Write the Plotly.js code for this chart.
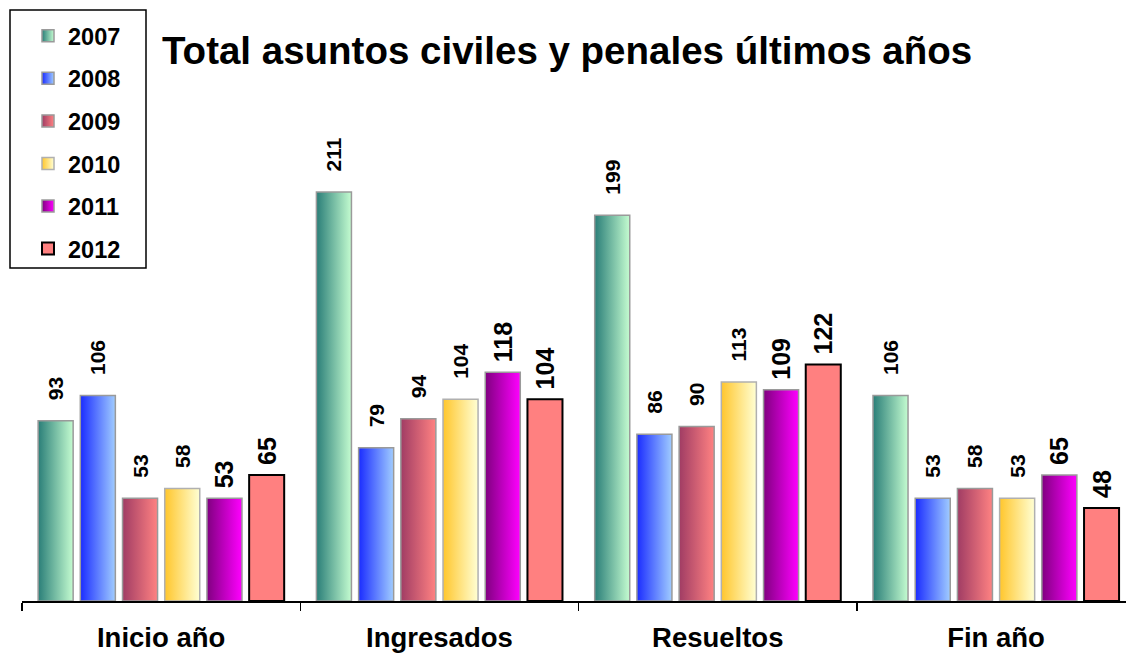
<!DOCTYPE html>
<html>
<head>
<meta charset="utf-8">
<script src="https://cdn.plot.ly/plotly-3.0.1.min.js"></script>
<style>
  html, body { margin: 0; padding: 0; background: #fff; }
  #chart { width: 1126px; height: 656px; }
</style>
</head>
<body>
<div id="chart"></div>
<script>
// ---- Data ----
const categories = ["Inicio año", "Ingresados", "Resueltos", "Fin año"];
const seriesNames = ["2007", "2008", "2009", "2010", "2011", "2012"];
const v2007 = [93, 211, 199, 106];
const v2008 = [106, 79, 86, 53];
const v2009 = [53, 94, 90, 58];
const v2010 = [58, 104, 113, 53];
const v2011 = [53, 118, 109, 65];
const v2012 = [65, 104, 122, 48];
const seriesValues = [v2007, v2008, v2009, v2010, v2011, v2012];

// ---- Styles ----
const gradients = [
  ["#2a7e78", "#c4fcd0"],
  ["#1a2cff", "#a0ccff"],
  ["#a03c64", "#ff8282"],
  ["#ffc62c", "#ffffd4"],
  ["#800080", "#ff00ff"],
  ["#ff8080", "#ff8080"]
];
const midColors = ["#7fbfa6", "#5f80ff", "#d05f73", "#ffe280", "#c000c0", "#ff8080"];
const lineColors = ["#9a9a9a", "#9a9a9a", "#9a9a9a", "#b0b0b0", "#9a9a9a", "#000000"];
const lineWidths = [1.5, 1.5, 1.5, 1.5, 1.5, 2];
const labelSizes = [21, 21, 21, 21, 25, 25];
const labelPads = ["\u00a0\u00a0\u00a0", "\u00a0\u00a0\u00a0", "\u00a0\u00a0\u00a0", "\u00a0\u00a0\u00a0", "\u00a0", "\u00a0"];
const FONT = "Liberation Sans, Arial, Helvetica, sans-serif";

const traces = seriesNames.map((name, i) => ({
  type: "bar",
  name: name,
  legendgroup: "g" + i,
  x: categories,
  y: seriesValues[i],
  marker: { color: midColors[i], line: { color: lineColors[i], width: lineWidths[i] } },
  texttemplate: labelPads[i] + "%{y}",
  textposition: "outside",
  textangle: -90,
  constraintext: "none",
  cliponaxis: false,
  outsidetextfont: { family: FONT, size: labelSizes[i], color: "#000", weight: "bold" },
  hoverinfo: "x+y+name"
}));

const layout = {
  width: 1126,
  height: 656,
  margin: { l: 22, r: 0, t: 0, b: 55 },
  paper_bgcolor: "#fff",
  plot_bgcolor: "#fff",
  font: { family: FONT, color: "#000" },
  title: {
    text: "Total asuntos civiles y penales últimos años",
    font: { family: FONT, size: 38.5, weight: "bold", color: "#000" },
    xref: "container", yref: "container",
    x: 0.5036, xanchor: "center",
    y: 1 - 51 / 656, yanchor: "middle"
  },
  barmode: "group",
  bargap: 0.09,
  bargroupgap: 0.17,
  showlegend: true,
  legend: {
    x: (28 - 22) / 1104, xanchor: "left",
    y: 1 - 14 / 601, yanchor: "top",
    font: { family: FONT, size: 23.5, weight: "bold", color: "#000" },
    bgcolor: "rgba(0,0,0,0)",
    borderwidth: 0,
    traceorder: "grouped",
    tracegroupgap: 9,
    itemwidth: 30
  },
  shapes: [{
    type: "rect", xref: "paper", yref: "paper",
    x0: (10 - 22) / 1104, x1: (146 - 22) / 1104,
    y0: 1 - 268 / 601, y1: 1 - 10 / 601,
    line: { color: "#000", width: 1.5 },
    fillcolor: "rgba(0,0,0,0)",
    layer: "above"
  }],
  xaxis: {
    type: "category",
    range: [-0.5, 3.467],
    showline: true, linecolor: "#000", linewidth: 2,
    ticks: "outside", tickson: "boundaries", ticklen: 8, tickwidth: 1.5, tickcolor: "#000",
    tickfont: { family: FONT, size: 27.5, weight: "bold", color: "#000" },
    ticklabelstandoff: 11,
    showgrid: false, zeroline: false, automargin: false, fixedrange: true
  },
  yaxis: {
    range: [0, 310],
    visible: false, showgrid: false, zeroline: false, fixedrange: true
  }
};

Plotly.newPlot("chart", traces, layout, { displayModeBar: false, staticPlot: true }).then(gd => {
  const svgNS = "http://www.w3.org/2000/svg";
  const defs = gd.querySelector("svg.main-svg defs") || gd._fullLayout._defs.node();
  gradients.forEach((g, i) => {
    const lg = document.createElementNS(svgNS, "linearGradient");
    lg.setAttribute("id", "bargrad" + i);
    lg.setAttribute("x1", "0"); lg.setAttribute("y1", "0");
    lg.setAttribute("x2", "1"); lg.setAttribute("y2", "0");
    [[0, g[0]], [1, g[1]]].forEach(([o, c]) => {
      const st = document.createElementNS(svgNS, "stop");
      st.setAttribute("offset", o);
      st.setAttribute("stop-color", c);
      lg.appendChild(st);
    });
    defs.appendChild(lg);
  });
  gd.querySelectorAll(".barlayer .trace.bars").forEach((t, i) => {
    t.querySelectorAll("path").forEach(p => { p.style.fill = "url(#bargrad" + i + ")"; });
  });
  gd.querySelectorAll(".legend .traces").forEach((t, i) => {
    t.querySelectorAll(".legendpoints path").forEach(p => { p.style.fill = "url(#bargrad" + i + ")"; });
  });
});
</script>
</body>
</html>
